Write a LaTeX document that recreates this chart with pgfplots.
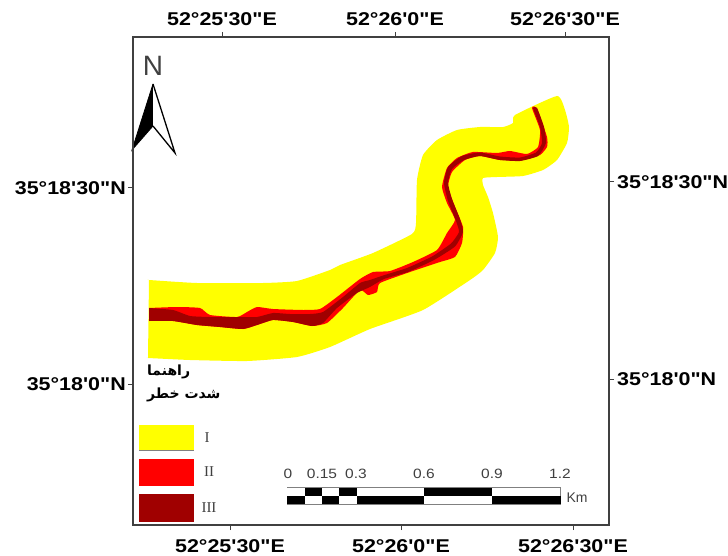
\documentclass[border=0pt]{standalone}
\usepackage{pgfplots}
\pgfplotsset{compat=1.18}
\usepackage{fontspec}
\TeXXeTstate=1
\newfontfamily\lab[FakeStretch=1.16]{Liberation Sans}
\newfontfamily\scalefont[FakeStretch=1.15]{Liberation Sans}
\newfontfamily\plain{Liberation Sans}
\newfontfamily\ser{Liberation Serif}
\newfontfamily\arabicfont[Script=Arabic]{DejaVu Sans}
\definecolor{framegray}{HTML}{404040}
\definecolor{darkred}{HTML}{A00000}
\definecolor{zoneyellow}{RGB}{255,255,0}
\definecolor{zonered}{RGB}{255,0,0}
\pgfplotsset{
  mapframe/.style={
    at={(133pt,31pt)}, anchor=south west,
    scale only axis, width=476pt, height=488pt,
    xmin=133, xmax=609, ymin=37, ymax=525, y dir=reverse,
    clip=false, tick align=outside,
    major tick length=5pt,
    axis line style={framegray,line width=1.3pt},
    tick style={framegray,line width=1pt},
    tick label style={font=\lab\bfseries\fontsize{18.5}{18.5}\selectfont,black},
  }
}
\begin{document}
\begin{tikzpicture}[x=1pt,y=1pt]
\useasboundingbox (0,0) rectangle (728,556);
\begin{axis}[mapframe,
  xtick={230,401,573}, xticklabels={{52°25'30"E},{52°26'0"E},{52°26'30"E}},
  ytick={188,384}, yticklabels={{35°18'30"N},{35°18'0"N}},
  xticklabel style={inner sep=1pt,yshift=-8pt},
  yticklabel style={inner sep=1pt,xshift=-1pt},
  xtick pos=bottom, ytick pos=left]
% zone I
\addplot[fill=zoneyellow,draw=none,smooth,tension=0.3] coordinates {
 (149,280) (149,280) (197,283) (263,283) (297,281) (330,270) (340,265) (373,253) (412,234) (416,223)
 (417,180) (423,155) (437,140) (457,130) (480,127) (503,127) (513,123) (515,115)
 (557,96) (565,110) (569,127) (567,143) (557,160) (543,170) (523,176) (497,177)
 (483,178) (483,185) (488,197) (493,213) (498,237) (495,253) (483,270) (470,280)
 (423,310) (370,329) (330,347) (297,357) (247,361) (190,360) (148,358) (148,358)};
% zone II
\addplot[fill=zonered,draw=none,smooth,tension=0.3] coordinates {
 (149,308) (177,307) (200,308) (210,315) (237,317) (247,312) (257,307) (273,309)
 (303,310) (320,309) (337,297) (360,279) (373,272) (390,271) (413,262) (437,250)
 (447,233) (455,220) (447,203) (442,187) (447,168) (457,158) (473,152) (497,153)
 (510,151) (527,154) (538,147) (540,130) (532,108) (537,108) (547,137) (547,147)
 (540,155) (523,160) (500,160) (480,156) (465,160) (452,172) (448,187) (455,207)
 (463,227) (462,243) (455,257) (440,262) (410,272) (380,283) (377,292) (368,295)
 (360,290) (343,308) (327,323) (312,326) (293,322) (273,320) (257,325) (243,329)
 (220,327) (197,325) (173,321) (149,321)};
% zone III
\addplot[fill=darkred,draw=none,smooth,tension=0.3] coordinates {
 (149,308) (173,310) (190,316) (210,317) (237,317) (257,317) (273,313) (290,314)
 (310,314) (323,312) (343,297) (360,283) (370,280) (383,275.5) (407,268) (432,256.5)
 (451,243.5) (459,232) (456,221) (448,201) (444,183) (448,167) (462,156) (480,152.5)
 (500,156.5) (520,157.5) (536,152.5) (542,143) (540,127) (533,108) (537,108) (544,127)
 (546,143) (538,156) (520,161) (500,160) (480,156) (464,160) (452,169) (448,183)
 (452,199) (460,219) (463,232) (455,246.5) (434,260) (408,272) (384,279) (370,287)
 (357,293) (337,308) (323,323) (312,326) (293,322) (273,320) (257,325) (243,329)
 (220,327) (197,325) (173,321) (149,321)};
% north arrow
\addplot[fill=black,draw=black,line width=0.8pt] coordinates {(153,84) (132,150) (153,126)};
\addplot[fill=white,draw=black,line width=1.3pt] coordinates {(153,84) (175,153) (153,126)};
\node[font=\plain\fontsize{28}{28}\selectfont,text=framegray] at (axis cs:153,66) {N};
% legend
\addplot[fill=zoneyellow,draw=none] coordinates {(139,425) (194,425) (194,450) (139,450)};
\addplot[draw=gray,line width=0.8pt] coordinates {(139,450) (194,450)};
\addplot[fill=zonered,draw=none] coordinates {(139,459) (194,459) (194,486) (139,486)};
\addplot[fill=darkred,draw=none] coordinates {(139,494) (194,494) (194,522) (139,522)};
\node[font=\ser\fontsize{15}{15}\selectfont,text=framegray] at (axis cs:207,438) {I};
\node[font=\ser\fontsize{15}{15}\selectfont,text=framegray] at (axis cs:209,472) {II};
\node[font=\ser\fontsize{15}{15}\selectfont,text=framegray] at (axis cs:209,508) {III};
\node[font=\arabicfont\bfseries\fontsize{14}{14}\selectfont,anchor=west,inner sep=0pt] at (axis cs:147,372) {\beginR راهنما\endR};
\node[font=\arabicfont\bfseries\fontsize{14}{14}\selectfont,anchor=west,inner sep=0pt] at (axis cs:147,395) {\beginR شدت خطر\endR};
% scale bar
\addplot[fill=white,draw=gray,line width=0.8pt] coordinates {(287.3,487) (560.7,487) (560.7,504) (287.3,504)};
\addplot[fill=black,draw=none] coordinates {(305,487.5) (322.3,487.5) (322.3,495.7) (305,495.7)};
\addplot[fill=black,draw=none] coordinates {(339.3,487.5) (356.7,487.5) (356.7,495.7) (339.3,495.7)};
\addplot[fill=black,draw=none] coordinates {(424,487.5) (492.3,487.5) (492.3,495.7) (424,495.7)};
\addplot[fill=black,draw=none] coordinates {(287.3,495.7) (305,495.7) (305,503.5) (287.3,503.5)};
\addplot[fill=black,draw=none] coordinates {(322.3,495.7) (339.3,495.7) (339.3,503.5) (322.3,503.5)};
\addplot[fill=black,draw=none] coordinates {(356.7,495.7) (424,495.7) (424,503.5) (356.7,503.5)};
\addplot[fill=black,draw=none] coordinates {(492.3,495.7) (560.7,495.7) (560.7,503.5) (492.3,503.5)};
\foreach \xx/\tt in {288/0,322/0.15,356/0.3,424/0.6,492/0.9,560/1.2}{
  \edef\temp{\noexpand\node[font=\noexpand\scalefont\noexpand\fontsize{13.5}{13.5}\noexpand\selectfont,text=framegray] at (axis cs:\xx,474) {\tt};}
  \temp
}
\node[font=\plain\fontsize{14}{14}\selectfont,text=framegray] at (axis cs:577,498) {Km};
\end{axis}
\begin{axis}[mapframe,
  xtick={222,395,565}, xticklabels={{52°25'30"E},{52°26'0"E},{52°26'30"E}},
  ytick={182,379}, yticklabels={{35°18'30"N},{35°18'0"N}},
  xticklabel style={inner sep=1pt,yshift=5pt},
  yticklabel style={inner sep=1pt,xshift=2pt},
  xtick pos=top, ytick pos=right]
\end{axis}
\end{tikzpicture}
\end{document}
